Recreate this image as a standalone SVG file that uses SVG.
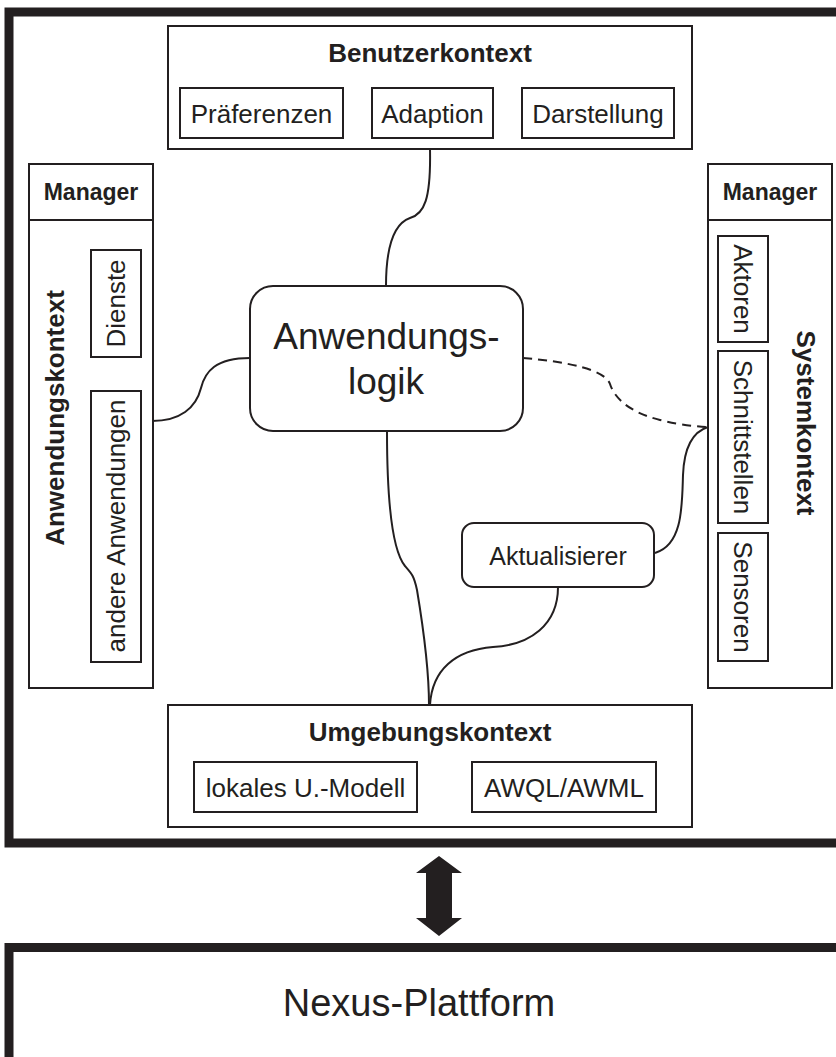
<svg xmlns="http://www.w3.org/2000/svg" width="836" height="1057" viewBox="0 0 836 1057">
  <style>
    .frame { fill: none; stroke: #231f20; stroke-width: 9; }
    .box { fill: #ffffff; stroke: #231f20; stroke-width: 2; }
    .sub { fill: #ffffff; stroke: #231f20; stroke-width: 2; }
    .title { font-family: "Liberation Sans", Arial, sans-serif; font-weight: bold; font-size: 26px; fill: #231f20; text-anchor: middle; }
    .mgr { font-family: "Liberation Sans", Arial, sans-serif; font-weight: bold; font-size: 23px; fill: #231f20; text-anchor: middle; }
    .lbl { font-family: "Liberation Sans", Arial, sans-serif; font-size: 26px; fill: #231f20; text-anchor: middle; }
    .big { font-size: 37px; }
    .mid { font-size: 25px; }
    .huge { font-size: 38px; }
    .wire { fill: none; stroke: #231f20; stroke-width: 2; }
    .dash { fill: none; stroke: #231f20; stroke-width: 2; stroke-dasharray: 9 6; }
  </style>

  <rect width="836" height="1057" fill="#ffffff"/>

  <!-- outer frame of the application side -->
  <rect id="frame" class="frame" x="9" y="12" width="840" height="831"/>

  <!-- connectors -->
  <g id="connectors">
    <path class="wire" d="M430,149 C431,200 424,214 410,218 C393,224 386,250 386,286"/>
    <path class="wire" d="M250,358 C215,358 205,372 201,388 C196,408 180,421 152,421"/>
    <path class="dash" d="M523,358 C570,362 605,370 610,384 C614,397 628,412 660,420 C680,425 700,427 708,427"/>
    <path class="wire" d="M708,427 C692,432 684,450 683,475 C682,505 683,545 655,553"/>
    <path class="wire" d="M387,431 C387,500 392,550 405,566 C412,574 414,576 417,590 C422,620 429,670 429,705"/>
    <path class="wire" d="M558,587 C558,625 530,645 493,647 C455,650 432,670 430,705"/>
    <polygon fill="#231f20" points="439,856 462,873 452,873 452,918 462,918 439,936 416,918 426,918 426,873 416,873"/>
  </g>

  <!-- Benutzerkontext -->
  <g id="benutzerkontext">
    <rect class="box" x="168" y="26" width="524" height="123"/>
    <text class="title" x="430" y="62">Benutzerkontext</text>
    <rect class="sub" x="180" y="88" width="163" height="50"/>
    <text class="lbl" x="261.5" y="123">Präferenzen</text>
    <rect class="sub" x="372" y="88" width="121" height="50"/>
    <text class="lbl" x="432.5" y="123">Adaption</text>
    <rect class="sub" x="522" y="88" width="152" height="50"/>
    <text class="lbl" x="598" y="123">Darstellung</text>
  </g>

  <!-- Anwendungskontext (left column) -->
  <g id="anwendungskontext">
    <rect class="box" x="29" y="164" width="124" height="56"/>
    <text class="mgr" x="91" y="200">Manager</text>
    <rect class="box" x="29" y="220" width="124" height="468"/>
    <text class="title" transform="translate(64,418) rotate(-90)">Anwendungskontext</text>
    <rect class="sub" x="91" y="250" width="50" height="107"/>
    <text class="lbl" transform="translate(125,303.5) rotate(-90)">Dienste</text>
    <rect class="sub" x="91" y="391" width="50" height="271"/>
    <text class="lbl" transform="translate(125,526) rotate(-90)">andere Anwendungen</text>
  </g>

  <!-- Systemkontext (right column) -->
  <g id="systemkontext">
    <rect class="box" x="708" y="164" width="124" height="56"/>
    <text class="mgr" x="770" y="200">Manager</text>
    <rect class="box" x="708" y="220" width="124" height="468"/>
    <text class="title" transform="translate(797,423) rotate(90)">Systemkontext</text>
    <rect class="sub" x="718" y="236" width="50" height="106"/>
    <text class="lbl" transform="translate(734,289) rotate(90)">Aktoren</text>
    <rect class="sub" x="718" y="351" width="50" height="172"/>
    <text class="lbl" transform="translate(734,437) rotate(90)">Schnittstellen</text>
    <rect class="sub" x="718" y="533" width="50" height="128"/>
    <text class="lbl" transform="translate(734,597) rotate(90)">Sensoren</text>
  </g>

  <!-- Anwendungslogik -->
  <g id="anwendungslogik">
    <rect class="box" x="250" y="286" width="273" height="145" rx="23" ry="23"/>
    <text class="lbl big" x="386.5" y="349">Anwendungs-</text>
    <text class="lbl big" x="386" y="394">logik</text>
  </g>

  <!-- Aktualisierer -->
  <g id="aktualisierer">
    <rect class="box" x="462" y="523" width="192" height="64" rx="12" ry="12"/>
    <text class="lbl mid" x="558" y="565">Aktualisierer</text>
  </g>

  <!-- Umgebungskontext -->
  <g id="umgebungskontext">
    <rect class="box" x="168" y="705" width="524" height="122"/>
    <text class="title" x="430" y="741">Umgebungskontext</text>
    <rect class="sub" x="194" y="762" width="223" height="50"/>
    <text class="lbl" x="305.5" y="797">lokales U.-Modell</text>
    <rect class="sub" x="472" y="762" width="184" height="50"/>
    <text class="lbl" x="564" y="797">AWQL/AWML</text>
  </g>

  <!-- Nexus platform -->
  <g id="nexus">
    <rect class="frame" x="9" y="947.5" width="840" height="114"/>
    <text class="lbl huge" x="419" y="1016">Nexus-Plattform</text>
  </g>
</svg>
